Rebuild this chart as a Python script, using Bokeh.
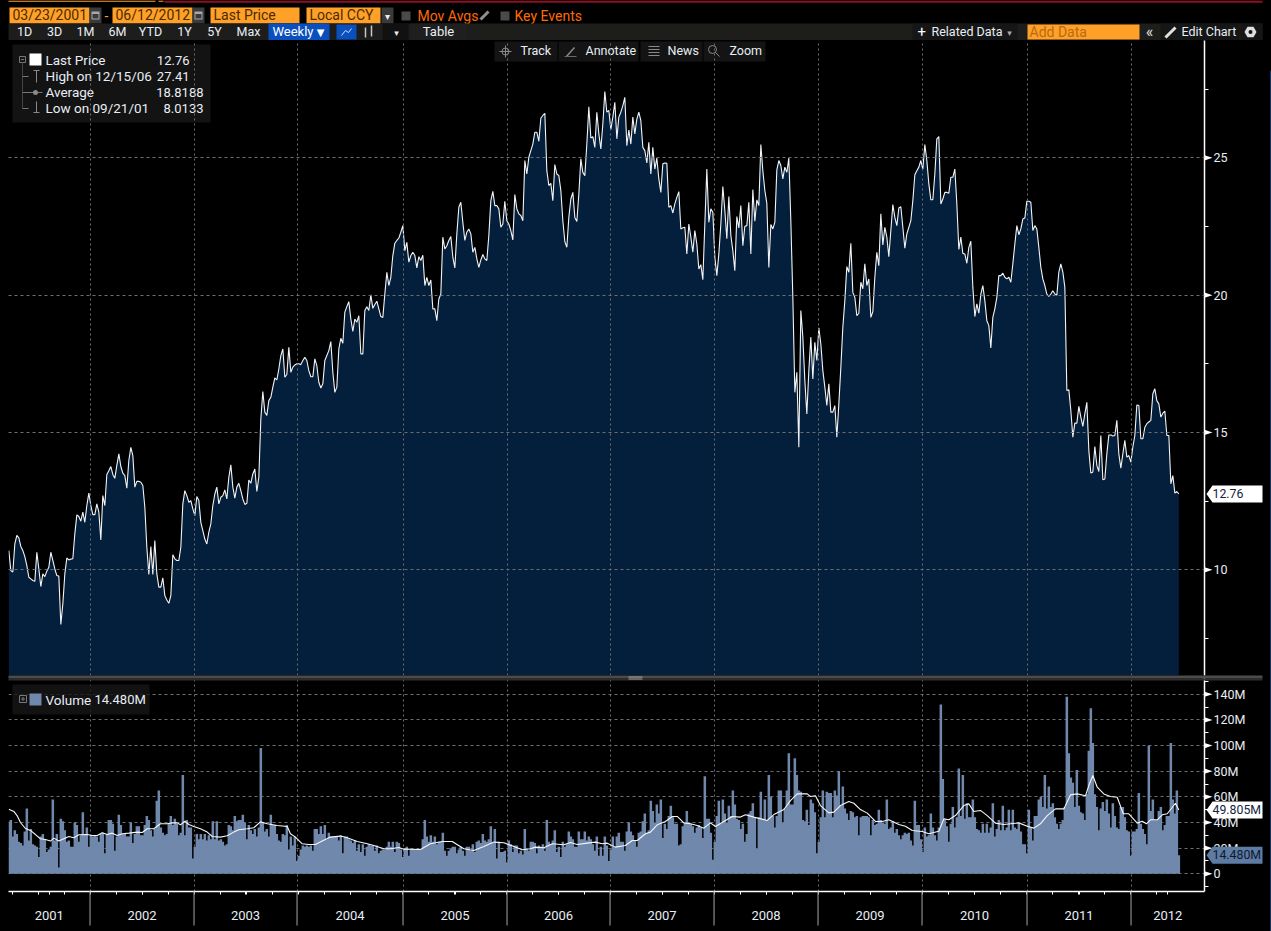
from bokeh.plotting import figure
from bokeh.layouts import column
from bokeh.embed import file_html
from bokeh.resources import INLINE
from bokeh.core.properties import value
from bokeh.models import Range1d, LinearAxis, FixedTicker, Grid

# weekly closes, 03/23/2001 .. 06/12/2012
price = [
10.7,9.97,9.92,10.94,11.25,11.16,10.85,10.7,10.48,10.15,9.73,9.67,9.61,9.58,10.64,10.03,9.39,9.85,9.75,9.95,
10.09,10.64,10.34,10.03,9.79,9.77,8.01,8.76,9.85,10.43,10.36,10.39,10.40,11.31,12.0,11.94,11.77,12.1,11.73,12.34,
12.79,12.34,12.01,12.01,12.4,12.1,11.09,12.70,12.34,13.47,13.61,13.76,13.47,13.33,13.8,14.22,13.76,13.52,13.43,12.97,
13.98,14.46,14.16,13.01,13.22,13.22,13.19,13.07,12.28,10.82,9.83,10.85,9.83,11.07,9.85,9.37,9.37,9.71,9.06,8.90,
8.78,9.06,10.55,10.40,10.34,10.34,10.82,12.40,12.88,12.70,12.46,12.52,12.22,11.97,12.67,12.52,11.73,11.43,11.12,10.94,
11.37,11.67,12.34,12.76,13.01,12.40,12.64,12.70,12.91,12.58,13.37,13.82,13.01,12.61,13.01,13.15,12.88,12.58,12.38,12.42,
13.27,13.15,13.49,13.67,12.85,13.37,15.49,16.49,15.74,15.62,16.16,16.28,16.65,16.99,16.91,17.31,17.80,18.04,17.01,17.11,
18.10,17.19,17.38,17.46,17.50,17.50,17.47,17.62,17.74,17.62,17.25,17.03,17.03,17.68,17.43,16.83,16.62,16.77,17.62,17.80,
17.98,18.31,17.19,16.46,16.65,18.04,18.43,18.25,19.38,19.58,19.76,19.13,18.68,19.13,19.01,19.25,17.86,17.86,19.44,19.58,
19.44,20.01,19.52,19.66,19.78,19.5,19.22,19.19,20.04,20.83,20.35,20.65,21.44,21.89,21.99,22.08,22.29,22.53,21.62,21.92,
21.20,21.44,21.56,21.44,20.99,21.40,21.26,21.45,20.35,20.65,20.35,20.55,19.50,19.50,19.07,19.86,20.04,22.11,21.68,21.80,
21.99,22.13,21.38,20.99,22.23,23.20,23.38,22.65,21.99,22.29,22.41,22.23,21.56,21.74,21.32,21.01,21.28,21.48,21.32,21.26,
22.17,23.44,23.78,23.26,23.26,23.14,22.47,22.59,23.42,22.71,22.59,22.35,22.01,23.66,23.14,22.96,22.90,22.71,24.90,24.41,
25.02,25.26,25.50,25.93,25.93,25.60,26.44,26.54,26.62,24.53,23.99,24.07,23.44,24.75,24.41,24.35,23.81,22.71,21.95,21.74,
22.83,23.50,23.74,22.83,22.68,23.68,24.96,24.47,24.35,25.50,26.86,25.72,25.77,25.38,26.66,25.87,25.32,26.23,27.41,26.66,
26.72,26.03,26.48,27.02,25.69,26.48,26.66,26.90,27.20,25.44,26.01,25.50,26.48,25.87,26.41,26.66,26.35,25.38,25.26,24.81,
25.56,24.41,25.38,24.59,24.99,24.23,23.74,24.78,24.81,24.80,23.20,23.26,22.99,23.32,23.56,23.77,22.41,22.45,22.47,21.50,
22.59,22.11,21.56,22.35,21.86,20.95,21.11,20.56,22.59,24.59,22.65,23.14,23.02,21.38,20.71,21.50,22.59,23.95,23.08,22.05,
23.59,22.17,21.62,20.89,22.86,22.45,23.26,21.80,22.51,22.53,23.38,21.50,23.84,22.69,23.47,23.26,25.48,24.53,23.81,23.34,
21.01,22.57,22.41,22.65,24.56,24.90,24.72,24.23,24.66,24.47,24.99,22.7,19.92,16.46,17.19,14.46,19.44,18.47,16.89,15.67,
17.25,18.47,16.95,18.28,17.62,18.81,18.22,17.25,16.65,15.98,16.77,15.74,15.74,15.98,14.83,16.04,17.37,18.83,19.80,21.04,
20.83,21.89,20.10,19.92,19.25,19.34,20.47,20.23,21.14,20.35,20.59,19.19,19.40,20.65,21.56,21.07,22.96,21.83,22.47,22.11,
21.40,22.35,23.30,22.83,22.53,23.17,23.22,22.47,21.71,22.23,22.47,22.71,23.44,24.38,24.53,24.66,24.90,24.59,25.48,24.90,
24.05,23.47,23.47,24.41,25.69,25.77,23.32,23.50,23.74,23.74,23.71,24.29,24.29,24.59,23.32,21.66,22.11,21.52,21.50,21.16,
21.74,21.96,20.29,19.22,19.68,19.34,20.04,20.35,19.80,19.07,18.89,18.08,19.19,19.50,19.92,20.71,20.71,20.80,20.65,20.59,
20.65,20.47,21.14,21.86,22.53,22.20,22.41,22.77,22.81,23.42,23.42,23.38,22.35,22.53,22.41,21.74,21.01,20.59,20.35,20.04,
19.95,20.04,20.16,20.04,20.0,20.84,21.14,20.84,20.29,16.53,16.55,15.80,14.83,15.34,15.34,15.95,15.56,15.22,15.68,16.10,
14.34,13.52,13.56,14.49,13.80,13.58,14.89,13.28,13.31,14.22,14.91,14.91,14.87,14.89,15.44,14.22,13.70,14.22,14.71,14.10,
14.16,13.92,14.47,14.89,16.0,15.98,14.77,14.77,15.19,15.32,15.38,15.44,16.41,16.59,16.16,16.04,15.56,15.70,15.78,14.89,
14.89,13.13,13.43,12.79,12.85,12.76]

# weekly volume, millions of shares
volume = [
40.5,42,29,34,31,25,24,22,33,51,26,35,23,22,21,13,29,31,27,17,19,21,58,26,31,5,43,41,34,25,26,21,21,40,38,25,30,48,31,36,
21,30,29,30,29,25,31,32,16,31,42,42,39,18,29,46,38,31,31,29,29,40,24,31,37,37,30,30,38,45,42,34,29,35,57,65,36,32,30,31,
39,45,38,43,39,30,32,77,30,42,36,36,12,21,31,27,31,27,31,26,30,27,41,27,41,26,27,25,22,23,38,37,34,45,41,42,42,46,40,27,
38,34,31,35,29,36,98,40,33,35,29,46,38,38,31,26,25,31,30,38,19,29,22,29,10,14,19,22,21,22,21,22,18,35,35,31,37,31,38,27,
32,29,29,29,29,26,30,16,29,29,27,26,24,26,18,23,17,23,14,21,23,22,22,18,22,16,18,19,19,21,25,21,25,17,25,24,19,13,20,21,
14,19,19,19,19,19,19,27,42,29,25,30,25,29,23,25,25,32,18,14,18,20,21,21,16,19,21,18,14,21,21,18,23,17,25,26,24,31,26,25,
27,37,24,35,12,25,17,17,18,9,26,23,17,22,22,16,18,15,35,19,18,25,25,24,16,22,21,23,18,42,25,23,26,34,17,21,13,25,21,23,
33,29,27,21,21,33,27,27,33,26,29,27,23,18,29,14,21,14,29,22,10,19,29,21,29,32,25,25,18,33,40,33,30,26,21,32,33,41,47,32,
34,57,49,40,54,47,58,28,39,35,45,53,44,39,39,22,23,37,40,49,40,39,37,32,36,38,36,28,76,43,43,32,11,25,45,57,39,58,47,40,
53,45,65,54,43,42,35,39,25,31,47,49,55,44,20,44,64,43,58,42,77,60,45,36,45,65,65,40,51,65,94,54,54,90,77,65,64,42,41,50,
38,58,55,48,16,25,44,65,44,64,63,63,44,65,61,80,53,68,51,47,42,49,48,44,45,30,44,45,45,45,44,30,42,38,39,50,42,40,39,58,
35,36,41,32,35,30,27,30,32,31,32,26,22,57,38,38,27,17,36,29,30,47,36,30,26,36,132,74,42,37,25,39,52,36,44,82,45,77,43,55,
44,44,58,44,35,34,32,39,32,39,32,36,55,29,35,42,34,53,34,36,50,34,50,36,35,39,33,23,23,16,50,36,26,45,45,58,60,52,77,51,
68,52,55,44,39,35,39,42,52,138,94,75,71,52,81,53,48,47,42,62,96,129,102,62,52,34,51,56,49,58,47,36,55,45,36,35,52,52,44,34,
33,14,33,33,35,63,39,35,31,23,100,49,58,42,42,49,52,34,38,45,45,102,58,47,65,14.48]

# 13-week volume average: week index and level (millions)
ma_week = [0,2.5,4.2,5.8,8.3,10.8,13.3,15.8,18.3,20.8,22.5,25,27.5,30,32.5,35,39.2,41.7,44.2,46.7,49.2,51.7,54.2,56.7,60,64.2,66.7,69.2,72.5,75.8,79.2,81.7,84.2,85.8,88,90,92.5,95.8,99.2,101.7,105.8,109.2,112.5,115,119.2,122.5,125.8,129.2,134.2,139.2,140.8,143.3,146.7,150,153.3,156.7,160.8,165.8,169.2,174.2,179.2,182.5,187.5,190.8,195,197.5,205.8,210.8,216.7,221.7,227.5,232.5,237.5,242.5,247.5,252.5,256.7,260.8,263.3,267.5,271.7,277.5,280.8,284.2,289.2,293.3,296.7,299.2,303.3,308.3,311.7,314.2,318.3,320.8,324.2,328.3,331.7,334.2,337.5,340.8,344.2,347.5,350.8,353.3,357.5,361.7,365.8,368.3,372.5,379.2,382.5,387.5,390.8,394.2,399.2,400.8,403.3,405.8,410,412.5,415.8,420,422.5,425.8,429.2,433.3,436.7,440,445,448.3,451.7,456.7,460,465,467.5,470,473.3,477.5,480,482.5,485.8,489.2,493.3,497.5,505,509.2,512.5,515.8,519.2,523.3,527.5,530.8,534.2,538.3,540,542,544.2,547.5,550.8,554.2,557.2,560,564.2,566.7,568.8,570.8,574.2,576.7,579.2,583.3,585]
ma_val = [50.4,48.6,45.2,40,35.3,33.8,30.6,27.3,26.8,25.5,27.8,25.5,27.3,29.1,28.1,30.4,30.6,29.9,29.9,32,30.6,31.7,29.9,31.2,31.7,32.5,32.2,35.1,35.1,39,39,39.7,39.7,38.2,41,38.4,36.9,35.1,32.5,29.1,28.6,29.6,32.5,34.3,35.1,35.9,40.5,39,37.7,36.9,31.2,28.6,23.4,22.9,22.9,25.5,28.6,29.4,28.1,25.2,23.4,22.1,19.5,19.5,20.5,19.2,19,23.4,25.2,25.2,19.5,18.2,21.3,24.7,24.2,21.3,18.7,19.5,20.8,20.3,23.4,22.6,24.4,22.9,23.9,24.7,23.4,23.9,20.8,22.1,26,26,31.2,32.5,38.2,40.8,44.7,44.7,39.7,39,37.7,35.6,39.7,36.9,40.8,44.7,44.2,46,44.2,41.6,46.2,50.1,57.1,62.3,62.3,60.3,60.8,53.2,47.5,48.1,53.2,56.3,55,50.1,47.3,40.8,40.8,42.1,38.4,37.1,33.8,33,31.2,33.2,42.8,42.1,45.4,53.2,54.5,48.6,49.4,45.4,39.5,38.4,39.7,37.1,35.6,39,45.4,50.6,50.6,61.5,62.3,60.8,68.8,76.6,67.5,62.3,60.3,59.7,46.8,46.8,39.5,41,39,42.1,42.1,46,46.8,55,49.805]

years = ["2001","2002","2003","2004","2005","2006","2007","2008","2009","2010","2011","2012"]
year_starts = [40.6,92.6,144.1,197.1,249.1,300.6,352.6,404.6,456.6,509.1,561.1]   # week index of each January
price_ticks = [10,15,20,25]
price_minor = [7.5,12.5,17.5,22.5,27.5]
vol_ticks = [0,20,40,60,80,100,120,140]
vol_labels = {0:"0",20:"20M",40:"40M",60:"60M",80:"80M",100:"100M",120:"120M",140:"140M"}
vol_minor = [-10,10,30,50,70,90,110,130,150]
last_price = 12.76
last_volume = 14.48
last_average = 49.805

FONT = "Roboto"
BG = "#000000"
TXT = "#e8eef5"
ORANGE = "#ffa028"
AMBER = "#ff6a00"
DARKTX = "#4a2b00"
BAR = "#7088ab"
NAVY = "#031f3b"
GRID = "#6e6e6e"
X0, X1 = -0.165, 597.83
F_L, F_R = 8, 1204
PR_TOP, PR_H, PR_LO, PR_HI = 40, 635, 6.152, 29.27
VO_TOP, VO_H, VO_LO, VO_HI = 675, 216, -13.8, 154.6


def cx(w):
    return F_L + (w - X0) * (F_R - F_L) / (X1 - X0)


def cy_pr(v):
    return PR_TOP + PR_H * (PR_HI - v) / (PR_HI - PR_LO)


def cy_vo(v):
    return VO_TOP + VO_H * (VO_HI - v) / (VO_HI - VO_LO)


def base(h, yr, bottom=0, px_y=None):
    p = figure(width=1271, height=h, x_range=Range1d(X0, X1), y_range=Range1d(*yr),
               x_axis_type=None, y_axis_type=None, toolbar_location=None, output_backend="svg",
               min_border_left=F_L, min_border_right=1271 - F_R, min_border_top=0, min_border_bottom=bottom,
               background_fill_color=BG, border_fill_color=BG, outline_line_color=None)
    p.extra_x_ranges = {"px": Range1d(F_L, F_R)}
    p.extra_y_ranges = {"px": Range1d(*px_y)}
    return p


PX = dict(x_range_name="px", y_range_name="px")
H = {}


def box(p, l, r, t, b, c, a=1.0, kw=PX):
    p.quad(left=[l], right=[r], top=[t], bottom=[b], fill_color=c, fill_alpha=a, line_color=None, **kw)


def txt(p, x, y, s, c=TXT, size=13, align="left", font=FONT, kw=PX):
    p.text(x=[x], y=[y], text=[s], text_color=c, text_font=value(font), text_font_size=f"{size}px",
           text_align=align, text_baseline="middle", **kw)


def seg(p, x0, y0, x1, y1, c="#777777", w=1.0, kw=PX):
    p.segment(x0=[x0], y0=[y0], x1=[x1], y1=[y1], line_color=c, line_width=w, **kw)


def page_fig(w, hh, bg=BG, alpha=1.0):
    return figure(width=w, height=hh, x_range=Range1d(0, w), y_range=Range1d(hh, 0), x_axis_type=None, y_axis_type=None,
                  toolbar_location=None, output_backend="svg", min_border=0, min_border_left=0, min_border_right=0,
                  min_border_top=0, min_border_bottom=0, background_fill_color=bg, background_fill_alpha=alpha,
                  border_fill_color=bg, border_fill_alpha=alpha, outline_line_color=None)


# ---------- header ----------
h = page_fig(1271, 40)
box(h, 8, 155, 0, 1.3, ORANGE, kw=H)
box(h, 158, 163, 0, 1.3, ORANGE, kw=H)
box(h, 164, 1262, 0, 2.2, "#8a1022", kw=H)
for l, r, s in [(9, 89, "03/23/2001"), (112, 192, "06/12/2012")]:
    box(h, l, r, 7, 23, ORANGE, kw=H)
    txt(h, l + 3, 14.5, s, DARKTX, 14, kw=H)
    box(h, r, r + 12, 7, 23, "#3a3a3a", kw=H)
    box(h, r + 2, r + 10, 11, 19, "#a8a8a8", kw=H)
    box(h, r + 3, r + 9, 13.5, 18, "#3a3a3a", kw=H)
txt(h, 106, 15, "-", ORANGE, 14, "center", kw=H)
box(h, 210, 299, 7, 23, ORANGE, kw=H)
txt(h, 213, 14.5, "Last Price", DARKTX, 14, kw=H)
box(h, 306, 380, 7, 23, ORANGE, kw=H)
txt(h, 309, 14.5, "Local CCY", DARKTX, 14, kw=H)
box(h, 381, 393, 7, 23, "#3a3a3a", kw=H)
txt(h, 387, 16, "▾", TXT, 10, "center", "DejaVu Sans", kw=H)
box(h, 401, 410, 11, 20, "#4a4a4a", kw=H)
txt(h, 417, 15, "Mov Avgs", AMBER, 14, kw=H)
seg(h, 480, 19, 488, 11, "#8f8f8f", 3, kw=H)
box(h, 500, 509, 11, 20, "#4a4a4a", kw=H)
txt(h, 514, 15, "Key Events", AMBER, 14, kw=H)

box(h, 8, 1262, 23, 40, "#1d1d1b", kw=H)
for s, x in [("1D", 24), ("3D", 54), ("1M", 85), ("6M", 117), ("YTD", 150), ("1Y", 184), ("5Y", 214), ("Max", 248)]:
    txt(h, x, 31, s, TXT, 12.5, "center", kw=H)
box(h, 268, 329, 23, 40, "#0a4fbe", kw=H)
txt(h, 272, 31, "Weekly", "#ffffff", 13, kw=H)
txt(h, 320, 31.5, "▼", "#ffffff", 10, "center", "DejaVu Sans", kw=H)
box(h, 336, 356, 24, 39, "#0a4fbe", kw=H)
h.line(x=[341, 345, 348, 351], y=[35, 30, 32, 28], line_color="#cfe0ff", line_width=1)
seg(h, 365, 27, 365, 37, "#c8c8c8", 1.5, kw=H)
seg(h, 371, 25, 371, 36, "#c8c8c8", 1.5, kw=H)
box(h, 382, 408, 23, 40, "#111111", kw=H)
txt(h, 396, 32, "▾", TXT, 9, "center", "DejaVu Sans", kw=H)
box(h, 410, 467, 23, 40, "#1f1f1f", kw=H)
txt(h, 438, 31, "Table", TXT, 13, "center", kw=H)
box(h, 912, 1017, 23, 40, "#161616", kw=H)
txt(h, 917, 31, "+", "#ffffff", 15, kw=H)
txt(h, 931, 31, "Related Data", TXT, 12.5, kw=H)
txt(h, 1009, 32, "▾", "#aaaaaa", 9, "center", "DejaVu Sans", kw=H)
box(h, 1027, 1139, 24, 39, ORANGE, kw=H)
txt(h, 1029, 31, "Add Data", "#b86a12", 14, kw=H)
txt(h, 1149, 30.5, "«", "#e0e0e0", 16, "center", kw=H)
box(h, 1160, 1239, 23, 40, "#161616", kw=H)
seg(h, 1165, 37, 1175, 27, "#e0e0e0", 3, kw=H)
txt(h, 1181, 31, "Edit Chart", TXT, 12.5, kw=H)
box(h, 1240, 1262, 23, 40, "#161616", kw=H)
h.scatter(x=[1250], y=[31.5], marker="hex", size=12, fill_color="#e0e0e0", line_color=None)
h.scatter(x=[1250], y=[31.5], marker="circle", size=4, fill_color="#161616", line_color=None)

# ---------- price panel ----------
pr = base(PR_H, (PR_LO, PR_HI), px_y=(675, 40))
xs = list(range(len(price)))
pr.varea(x=xs, y1=[PR_LO] * len(price), y2=price, fill_color=NAVY)
pr.line(x=xs, y=price, line_color="#f2f4f7", line_width=1.1)
pr.add_layout(Grid(dimension=0, ticker=FixedTicker(ticks=year_starts), grid_line_color=GRID, grid_line_dash="2 3", level="overlay"))
pr.add_layout(Grid(dimension=1, ticker=FixedTicker(ticks=price_ticks), grid_line_color=GRID, grid_line_dash="3 3", level="overlay"))
ax = LinearAxis(ticker=FixedTicker(ticks=price_ticks, minor_ticks=price_minor), axis_line_color="#ffffff", axis_line_width=1.5,
                major_tick_in=0, major_tick_out=8, major_tick_line_color=None, minor_tick_in=0, minor_tick_out=4,
                minor_tick_line_color="#ffffff", major_label_standoff=1, major_label_text_color=TXT,
                major_label_text_font=FONT, major_label_text_font_size="12.5px")
pr.add_layout(ax, "right")

# legend
box(pr, 12, 210, 44, 122, "#161616", 0.85)
box(pr, 19, 25, 56, 62, "#161616")
for a in [(19, 56, 25, 56), (19, 62, 25, 62), (19, 56, 19, 62), (25, 56, 25, 62), (20.5, 59, 23.5, 59)]:
    seg(pr, *a)
seg(pr, 22, 62, 22, 108, "#444444")
box(pr, 29, 41, 53, 65, "#ffffff")
seg(pr, 22, 76, 28, 76)
seg(pr, 33, 70, 39, 70, "#8a8a8a")
seg(pr, 36, 70, 36, 82, "#8a8a8a")
seg(pr, 22, 92, 42, 92)
pr.scatter(x=[35], y=[92], marker="circle", size=5, fill_color="#8a8a8a", line_color=None, **PX)
seg(pr, 22, 108, 28, 108)
seg(pr, 33, 112, 39, 112, "#8a8a8a")
seg(pr, 36, 101, 36, 112, "#8a8a8a")
for y, a in [(59.5, "Last Price"), (75.5, "High on 12/15/06"), (91.5, "Average"), (107.5, "Low on 09/21/01")]:
    txt(pr, 45, y, a, TXT, 13.5)
for y, b, x in [(59.5, "12.76", 189), (75.5, "27.41", 189), (91.5, "18.8188", 203), (107.5, "8.0133", 203)]:
    txt(pr, x, y, b, TXT, 13, "right")

# track bar
for l, r, s, x in [(494, 557, "Track", 520), (558, 638, "Annotate", 585), (640, 702, "News", 667), (703, 765, "Zoom", 729)]:
    box(pr, l, r, 41, 61, "#161616", 0.9)
    txt(pr, x, 50, s, TXT, 12.5)
seg(pr, 499, 51, 511, 51, "#8a8a8a")
seg(pr, 505, 45, 505, 57, "#8a8a8a")
pr.scatter(x=[505], y=[51], marker="circle", size=7, fill_color=None, line_color="#8a8a8a", **PX)
seg(pr, 566, 56, 574, 47, "#8a8a8a", 1.5)
seg(pr, 564, 56, 576, 56, "#6a6a6a")
for y in [46, 49, 52, 55]:
    seg(pr, 648, y, 659, y, "#8a8a8a")
pr.scatter(x=[712], y=[49], marker="circle", size=8, fill_color=None, line_color="#8a8a8a", **PX)
seg(pr, 715, 52, 719, 56, "#8a8a8a")

# ---------- volume panel ----------
vo = base(256, (VO_LO, VO_HI), bottom=40, px_y=(891, 675))
vo.add_layout(Grid(dimension=0, ticker=FixedTicker(ticks=year_starts), grid_line_color=GRID, grid_line_dash="2 3"))
vo.add_layout(Grid(dimension=1, ticker=FixedTicker(ticks=vol_ticks), grid_line_color=GRID, grid_line_dash="3 3"))
vo.vbar(x=list(range(len(volume))), top=volume, bottom=0, width=1.25, fill_color=BAR, line_color=None)
vo.line(x=ma_week, y=ma_val, line_color="#f4f6f8", line_width=1.1)
ay = LinearAxis(ticker=FixedTicker(ticks=vol_ticks, minor_ticks=vol_minor), axis_line_color="#ffffff", axis_line_width=1.5,
                major_tick_in=0, major_tick_out=8, major_tick_line_color=None, minor_tick_in=0, minor_tick_out=4,
                minor_tick_line_color="#ffffff", major_label_standoff=1, major_label_text_color=TXT,
                major_label_text_font=FONT, major_label_text_font_size="12.5px",
                major_label_overrides={k: v for k, v in vol_labels.items()})
vo.add_layout(ay, "right")
edges = [X0] + year_starts + [X1]
mids = [(edges[i] + edges[i + 1]) / 2 for i in range(len(years))]
quarters = [year_starts[0] + 13 * k for k in range(-3, 42)]
ticks_q = [q for q in quarters if X0 < q < X1]
axx = LinearAxis(ticker=FixedTicker(ticks=mids, minor_ticks=ticks_q), axis_line_color="#ffffff", axis_line_width=1.5,
                 major_tick_in=0, major_tick_out=3, major_tick_line_color="#ffffff", minor_tick_in=0, minor_tick_out=3,
                 minor_tick_line_color="#ffffff", major_label_standoff=16, major_label_text_color=TXT,
                 major_label_text_font=FONT, major_label_text_font_size="13px",
                 major_label_overrides={m: y for m, y in zip(mids, years)})
vo.add_layout(axx, "below")

box(vo, 12, 149, 684, 714, "#161616", 0.8)
box(vo, 19, 26, 695, 702, "#161616")
for a in [(19, 695, 26, 695), (19, 702, 26, 702), (19, 695, 19, 702), (26, 695, 26, 702), (20.5, 698.5, 24.5, 698.5), (22.5, 696.5, 22.5, 700.5)]:
    seg(vo, *a)
box(vo, 29, 41, 693, 705, BAR)
txt(vo, 45, 699, "Volume", TXT, 13.5)
txt(vo, 94, 699, "14.480M", TXT, 13)

# ---------- transparent page-wide layer for what sits outside the plot frames ----------
ov = page_fig(1271, 931, alpha=0.0)
ov.styles = {"position": "fixed", "left": "0", "top": "0", "pointer-events": "none"}
box(ov, 8, 1262, 675, 678, "#4c4c4c", kw=H)
box(ov, 8, 1262, 678, 680, "#2e2e2e", kw=H)
box(ov, 628, 642, 676, 677, "#a0a0a0", kw=H)
box(ov, 628, 642, 678, 679, "#a0a0a0", kw=H)
box(ov, 1270, 1271, 70, 931, "#1a6fc4", kw=H)
for s in year_starts:
    seg(ov, cx(s), 891, cx(s), 925, "#8a8a8a", 1.2, kw=H)


def arrow(c):
    ov.patch(x=[1204, 1204, 1212], y=[c - 2.6, c + 2.6, c], fill_color="#ffffff", line_color=None)


def tag(c, s, fill, tc):
    ov.patch(x=[1206, 1212, 1262, 1262, 1212], y=[c, c - 8.5, c - 8.5, c + 8.5, c + 8.5], fill_color=fill, line_color=None)
    txt(ov, 1212, c, s, tc, 12.3, kw=H)


for v in price_ticks:
    arrow(cy_pr(v))
for v in vol_ticks:
    arrow(cy_vo(v))
tag(cy_pr(last_price), "12.76", "#ffffff", "#12233f")
tag(cy_vo(last_average), "49.805M", "#ffffff", "#12233f")
tag(cy_vo(last_volume), "14.480M", "#5d7ba3", "#0d1a2e")

panels = column(pr, vo, spacing=0)
root = column(h, panels, ov, spacing=0, styles={"position": "fixed", "left": "0", "top": "0", "background": "#000000"})
open("out.html", "w").write(file_html(root, INLINE))
